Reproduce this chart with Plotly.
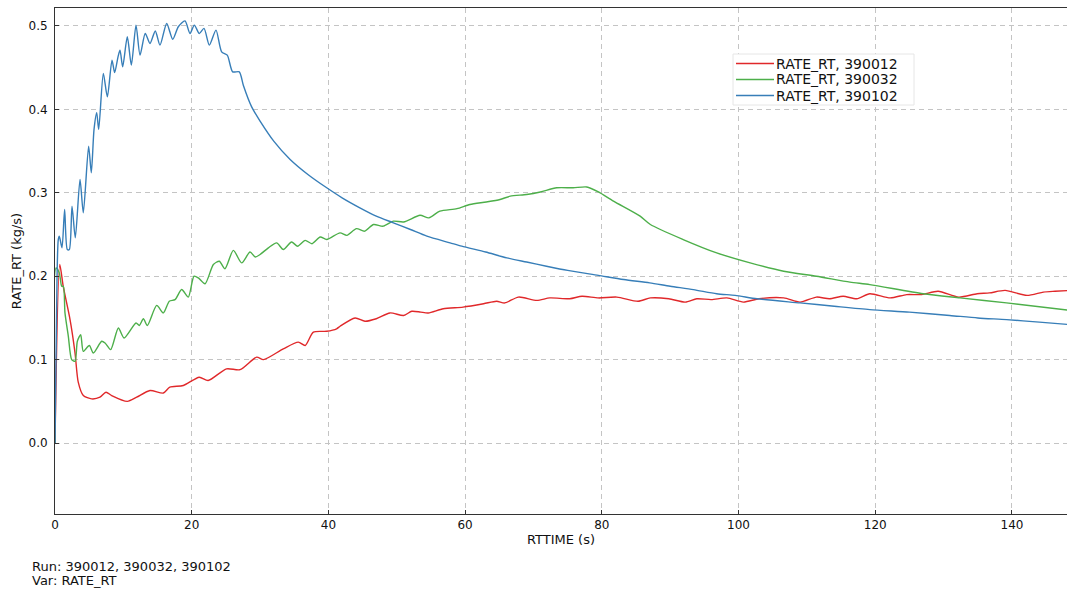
import plotly.graph_objects as go

# ---------------- data ----------------
series_names = ["RATE_RT, 390012", "RATE_RT, 390032", "RATE_RT, 390102"]
series_colors = ["#e0282a", "#4daf4a", "#377eb8"]

t_390012 = [0, 0.7, 1.2, 2.2, 2.93, 3.4, 4.14, 5.36, 6.58, 7.46, 8.29, 10.58, 11.95, 13.9,
            15.85, 16.8, 18.77, 21.1, 22.4, 25.1, 27.07, 29.5, 30.5, 33.4, 35.6, 36.6, 37.8,
            39.75, 41.2, 41.7, 43.9, 45.35, 47.0, 49.0, 51.0, 52.2, 53.5, 54.6, 56.8, 59.7,
            62.7, 64.6, 65.8, 67.8, 70.5, 72.4, 75.3, 77.1, 79.5, 82.2, 85.3, 87.1, 89.8,
            92.2, 93.9, 96.0, 98.3, 100.7, 103.0, 106.6, 109.0, 111.4, 113.3, 115.3, 117.3,
            119.2, 122.2, 124.6, 126.8, 129.2, 132.2, 134.9, 136.7, 139.0, 142.2, 144.6,
            146.3, 148.5]
rate_390012 = [0, 0.214, 0.188, 0.148, 0.108, 0.073, 0.057, 0.053, 0.055, 0.061, 0.057, 0.050,
               0.055, 0.063, 0.060, 0.067, 0.069, 0.079, 0.075, 0.089, 0.088, 0.103, 0.100,
               0.113, 0.121, 0.117, 0.133, 0.134, 0.137, 0.140, 0.150, 0.146, 0.149, 0.156,
               0.153, 0.158, 0.157, 0.156, 0.161, 0.163, 0.167, 0.170, 0.168, 0.175, 0.171,
               0.174, 0.173, 0.176, 0.174, 0.175, 0.170, 0.174, 0.173, 0.169, 0.173, 0.172,
               0.174, 0.169, 0.173, 0.174, 0.169, 0.175, 0.173, 0.176, 0.173, 0.179, 0.174,
               0.178, 0.178, 0.182, 0.175, 0.179, 0.180, 0.183, 0.177, 0.181, 0.182, 0.183]

t_390032 = [0, 0.15, 0.63, 0.98, 1.22, 1.46, 1.95, 2.44, 2.93, 3.27, 3.76, 4.14, 5.02, 5.61,
            6.83, 7.32, 8.14, 9.27, 10.1, 11.85, 12.34, 12.93, 13.51, 14.88, 15.85, 16.72,
            17.56, 18.53, 19.5, 20.34, 20.97, 21.95, 23.17, 24.04, 24.87, 26.09, 27.31, 28.53,
            29.3, 30.0, 31.21, 32.43, 33.4, 34.6, 35.5, 36.6, 37.6, 38.8, 39.75, 41.7, 42.7,
            44.1, 45.3, 46.6, 48.0, 49.5, 51.0, 53.4, 54.7, 56.3, 58.8, 60.7, 63.1, 65.1,
            66.6, 69.0, 71.0, 73.4, 75.8, 77.8, 79.5, 81.7, 85.6, 87.1, 91.9, 96.8, 101.7,
            106.6, 111.4, 116.3, 119.2, 127.0, 132.4, 139.2, 148.5]
rate_390032 = [0, 0.210, 0.204, 0.188, 0.188, 0.156, 0.128, 0.100, 0.098, 0.122, 0.130, 0.110,
               0.117, 0.108, 0.122, 0.120, 0.112, 0.138, 0.126, 0.144, 0.141, 0.149, 0.141,
               0.165, 0.156, 0.170, 0.172, 0.184, 0.175, 0.200, 0.198, 0.191, 0.214, 0.218,
               0.209, 0.231, 0.216, 0.229, 0.223, 0.226, 0.234, 0.240, 0.232, 0.241, 0.236,
               0.243, 0.239, 0.247, 0.244, 0.252, 0.249, 0.257, 0.254, 0.262, 0.260, 0.266,
               0.265, 0.273, 0.270, 0.278, 0.281, 0.286, 0.289, 0.292, 0.296, 0.298, 0.301,
               0.306, 0.306, 0.307, 0.301, 0.290, 0.272, 0.262, 0.244, 0.228, 0.216, 0.206,
               0.200, 0.193, 0.190, 0.179, 0.174, 0.168, 0.159]

t_390102 = [0, 0.3, 0.48, 0.63, 1.02, 1.41, 1.8, 2.1, 2.49, 2.97, 3.66, 4.14, 4.92, 5.31, 5.71,
            6.1, 6.39, 7.07, 7.66, 8.34, 8.73, 9.22, 9.51, 9.9, 10.58, 11.17, 11.85, 12.44,
            13.2, 13.9, 14.67, 15.36, 16.34, 17.22, 18.04, 19.02, 19.75, 20.38, 21.11, 21.8,
            22.58, 23.55, 24.38, 25.2, 25.99, 26.96, 27.55, 28.77, 30.0, 32.0, 34.4, 37.0,
            39.75, 42.0, 44.6, 47.0, 49.5, 52.0, 54.4, 57.8, 59.5, 63.0, 66.1, 69.0, 71.9,
            75.0, 79.5, 83.2, 87.0, 90.0, 93.4, 96.8, 99.5, 102.7, 109.0, 114.0, 119.2, 125.0,
            130.9, 135.0, 139.2, 144.0, 148.5]
rate_390102 = [0, 0.200, 0.244, 0.248, 0.234, 0.280, 0.232, 0.232, 0.284, 0.246, 0.316, 0.276,
               0.356, 0.324, 0.376, 0.396, 0.376, 0.443, 0.415, 0.459, 0.444, 0.463, 0.471,
               0.451, 0.487, 0.453, 0.501, 0.465, 0.491, 0.479, 0.494, 0.477, 0.503, 0.484,
               0.499, 0.506, 0.491, 0.501, 0.491, 0.497, 0.477, 0.495, 0.469, 0.465, 0.445,
               0.445, 0.429, 0.403, 0.386, 0.362, 0.340, 0.322, 0.306, 0.294, 0.282, 0.272,
               0.264, 0.256, 0.248, 0.240, 0.236, 0.229, 0.222, 0.217, 0.212, 0.207, 0.201,
               0.196, 0.192, 0.188, 0.184, 0.179, 0.177, 0.173, 0.168, 0.164, 0.160, 0.157,
               0.153, 0.150, 0.148, 0.145, 0.142]

x_ticks = [0, 20, 40, 60, 80, 100, 120, 140]
y_ticks = [0.0, 0.1, 0.2, 0.3, 0.4, 0.5]
footer_lines = ["Run: 390012, 390032, 390102", "Var: RATE_RT"]

# ---------------- figure ----------------
FONT = "DejaVu Sans"
W, H = 1067, 591
ML, MT, MR, MB = 55, 8, 0, 77
PW, PH = W - ML - MR, H - MT - MB


def px2paper(px, py):
    return (px - ML) / PW, (H - MB - py) / PH


fig = go.Figure()
xs = [t_390012, t_390032, t_390102]
ys = [rate_390012, rate_390032, rate_390102]
for name, color, x, y in zip(series_names, series_colors, xs, ys):
    fig.add_trace(go.Scatter(x=x, y=y, mode="lines", name=name,
                             line=dict(color=color, width=1.4, shape="spline", smoothing=0.7),
                             showlegend=False))

grid = dict(showgrid=True, gridcolor="#c4c4c4", griddash="5px,4px", gridwidth=1)
fig.update_xaxes(range=[0, 148.05], tickvals=x_ticks, **grid,
                 showline=True, linecolor="#333333", linewidth=1, mirror=True,
                 ticks="inside", ticklen=4, tickcolor="#333333",
                 zeroline=False, tickfont=dict(size=12, color="#111"),
                 title=dict(text="RTTIME (s)", font=dict(size=13, color="#111"), standoff=3))
fig.update_yaxes(range=[-0.085, 0.5215], tickvals=y_ticks, tickformat=".1f", **grid,
                 showline=True, linecolor="#333333", linewidth=1, mirror=False,
                 ticks="inside", ticklen=4, tickcolor="#333333",
                 zeroline=False, tickfont=dict(size=12, color="#111"), ticklabelstandoff=4,
                 title=dict(text="RATE_RT (kg/s)", font=dict(size=13, color="#111"), standoff=3))

# manual legend (matplotlib-like compact legend)
shapes = []
annotations = []
bx0, by0 = px2paper(733, 54)
bx1, by1 = px2paper(914, 105)
shapes.append(dict(type="rect", xref="paper", yref="paper", x0=bx0, y0=by1, x1=bx1, y1=by0,
                   fillcolor="white", line=dict(color="#e6e6e6", width=1), layer="above"))
for i, (name, color) in enumerate(zip(series_names, series_colors)):
    py = 63.5 + 16 * i
    lx0, ly = px2paper(736, py)
    lx1, _ = px2paper(774, py)
    shapes.append(dict(type="line", xref="paper", yref="paper", x0=lx0, x1=lx1, y0=ly, y1=ly,
                       line=dict(color=color, width=1.4), layer="above"))
    tx, _ = px2paper(775, py)
    annotations.append(dict(xref="paper", yref="paper", x=tx, y=ly, text=name, showarrow=False,
                            xanchor="left", yanchor="middle", borderpad=0,
                            font=dict(family=FONT, size=14, color="#111")))

for i, line in enumerate(footer_lines):
    annotations.append(dict(xref="paper", yref="paper", x=(31 - ML) / PW,
                            y=(H - MB - (566 + 14 * i)) / PH, text=line, showarrow=False,
                            xanchor="left", yanchor="middle", borderpad=0,
                            font=dict(family=FONT, size=13, color="#111")))

fig.update_layout(width=W, height=H, margin=dict(l=ML, r=MR, t=MT, b=MB, autoexpand=False),
                  paper_bgcolor="white", plot_bgcolor="white",
                  font=dict(family=FONT, size=12, color="#111"),
                  shapes=shapes, annotations=annotations)

fig.write_html("out.html")
